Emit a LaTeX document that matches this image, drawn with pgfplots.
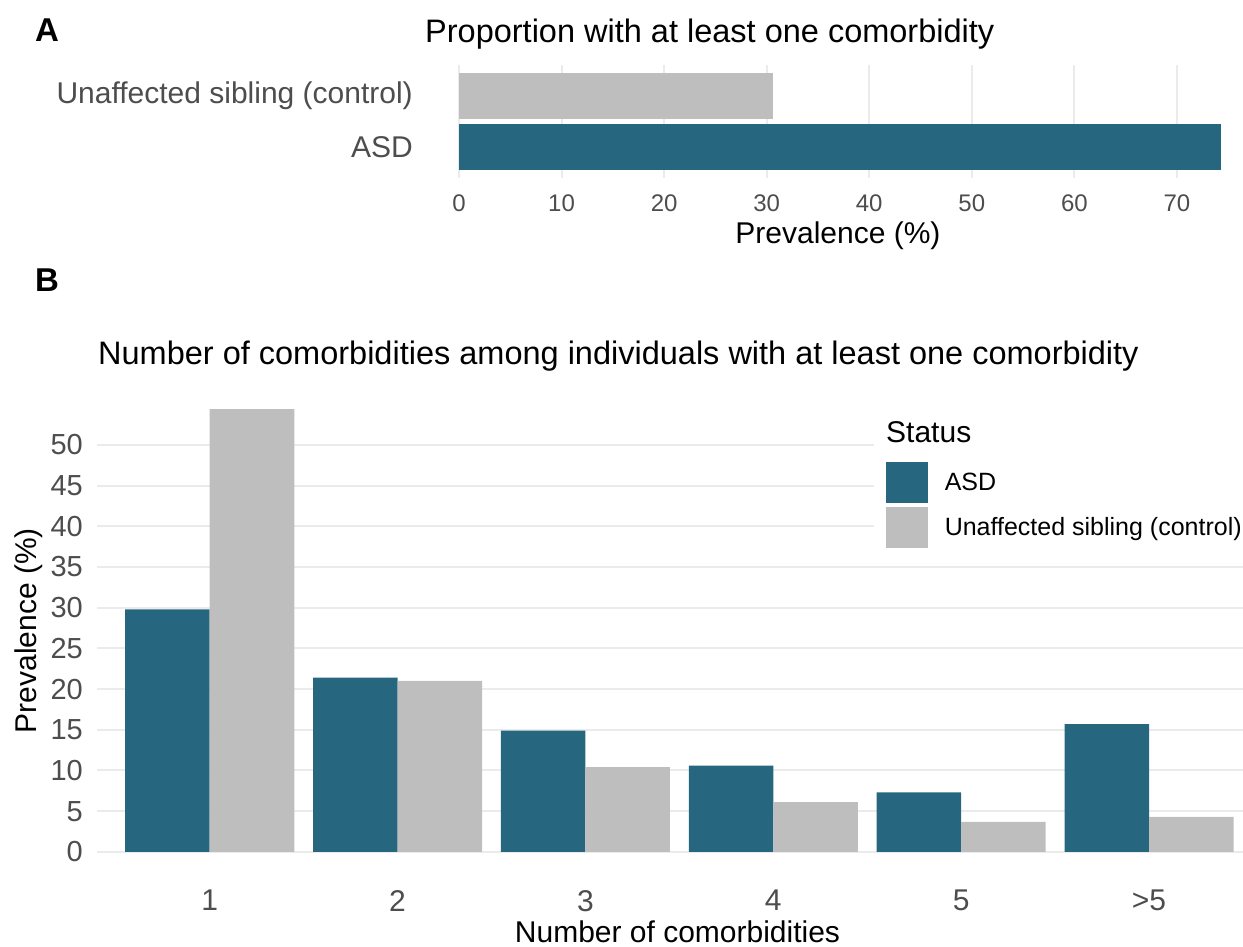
\documentclass[border=0pt]{standalone}
\usepackage{fontspec}
\setmainfont{Liberation Sans}
\usepackage{pgfplots}
\pgfplotsset{compat=1.18}
\definecolor{asd}{HTML}{27667F}
\definecolor{ctrl}{HTML}{BEBEBE}
\definecolor{gridc}{HTML}{EBEBEB}
\definecolor{tickc}{HTML}{4D4D4D}
\begin{document}
\begin{tikzpicture}[x=1pt,y=1pt]
\useasboundingbox (0,0) rectangle (1243,946);
% ---------------- Panel A ----------------
\begin{axis}[
  at={(459pt,768pt)}, anchor=south west,
  scale only axis, width=762pt, height=113pt,
  xmin=0, xmax=74.3, ymin=-0.6, ymax=1.6,
  axis line style={draw=none},
  major tick length=0pt,
  xtick={0,10,...,70}, ytick={0,1},
  yticklabels={ASD, Unaffected sibling (control)},
  xmajorgrids, major grid style={gridc, line width=2pt},
  /pgf/number format/assume math mode=true,
  xticklabel style={font=\fontsize{24}{24}\selectfont, text=tickc, inner sep=0pt, anchor=north},
  xticklabel shift=17pt,
  yticklabel style={font=\fontsize{30}{30}\selectfont, text=tickc, inner sep=0pt, anchor=east},
  yticklabel shift=46pt,
]
\addplot[xbar, bar width=0.9, bar shift=0, fill=asd, draw=none] coordinates {(74.3,0)};
\addplot[xbar, bar width=0.9, bar shift=0, fill=ctrl, draw=none] coordinates {(30.6,1)};
\end{axis}
% ---------------- Panel B ----------------
\begin{axis}[
  at={(97pt,72pt)}, anchor=south west,
  scale only axis, width=1146pt, height=487pt,
  xmin=-0.6, xmax=5.5, ymin=-2.72, ymax=57.12,
  axis line style={draw=none},
  major tick length=0pt,
  xtick={0,1,2,3,4,5}, xticklabels={1,2,3,4,5,>5},
  ytick={0,5,...,50},
  ymajorgrids, major grid style={gridc, line width=2pt},
  /pgf/number format/assume math mode=true,
  xticklabel style={font=\fontsize{30}{30}\selectfont, text=tickc, inner sep=0pt, anchor=north},
  xticklabel shift=16pt,
  yticklabel style={font=\fontsize{29}{29}\selectfont, text=tickc, inner sep=0pt, anchor=east},
  yticklabel shift=14pt,
  legend style={at={(0.678,0.8713)}, anchor=north west, draw=none, fill=white,
    inner sep=12pt, column sep=17pt, row sep=3.4pt,
    font=\fontsize{25}{25}\selectfont,
    nodes={inner sep=0pt, outer sep=0pt}},
  legend cell align=left,
]
\addplot[ybar, bar width=0.45, bar shift=-0.225, fill=asd, draw=none,
  legend image code/.code={\fill[asd] (0pt,-20.8pt) rectangle (41.6pt,20.8pt);}]
  coordinates {(0,29.8) (1,21.4) (2,14.9) (3,10.6) (4,7.3) (5,15.7)};
\addlegendentry{ASD}
\addplot[ybar, bar width=0.45, bar shift=0.225, fill=ctrl, draw=none,
  legend image code/.code={\fill[ctrl] (0pt,-20.8pt) rectangle (41.6pt,20.8pt);}]
  coordinates {(0,54.4) (1,21.0) (2,10.4) (3,6.1) (4,3.7) (5,4.3)};
\addlegendentry{Unaffected sibling (control)}
\end{axis}
% legend title area
\fill[white] (874,496.3) rectangle (1243,541);
\node[anchor=base west, inner sep=0pt, font=\fontsize{30}{30}\selectfont] at (886,503.3) {Status};
% titles and labels
\node[anchor=base west, inner sep=0pt, font=\bfseries\fontsize{33}{33}\selectfont] at (35,904) {A};
\node[anchor=base west, inner sep=0pt, font=\bfseries\fontsize{33}{33}\selectfont] at (35,654) {B};
\node[anchor=base west, inner sep=0pt, font=\fontsize{32.5}{32.5}\selectfont] at (425,903) {Proportion with at least one comorbidity};
\node[anchor=base west, inner sep=0pt, font=\fontsize{32.5}{32.5}\selectfont] at (98,581) {Number of comorbidities among individuals with at least one comorbidity};
\node[anchor=base, inner sep=0pt, font=\fontsize{30}{30}\selectfont] at (838,702.5) {Prevalence (\%)};
\node[anchor=center, rotate=90, inner sep=0pt, font=\fontsize{30}{30}\selectfont] at (28.5,315.3) {Prevalence (\%)};
\node[anchor=base, inner sep=0pt, font=\fontsize{30}{30}\selectfont] at (677.5,4) {Number of comorbidities};
\end{tikzpicture}
\end{document}
